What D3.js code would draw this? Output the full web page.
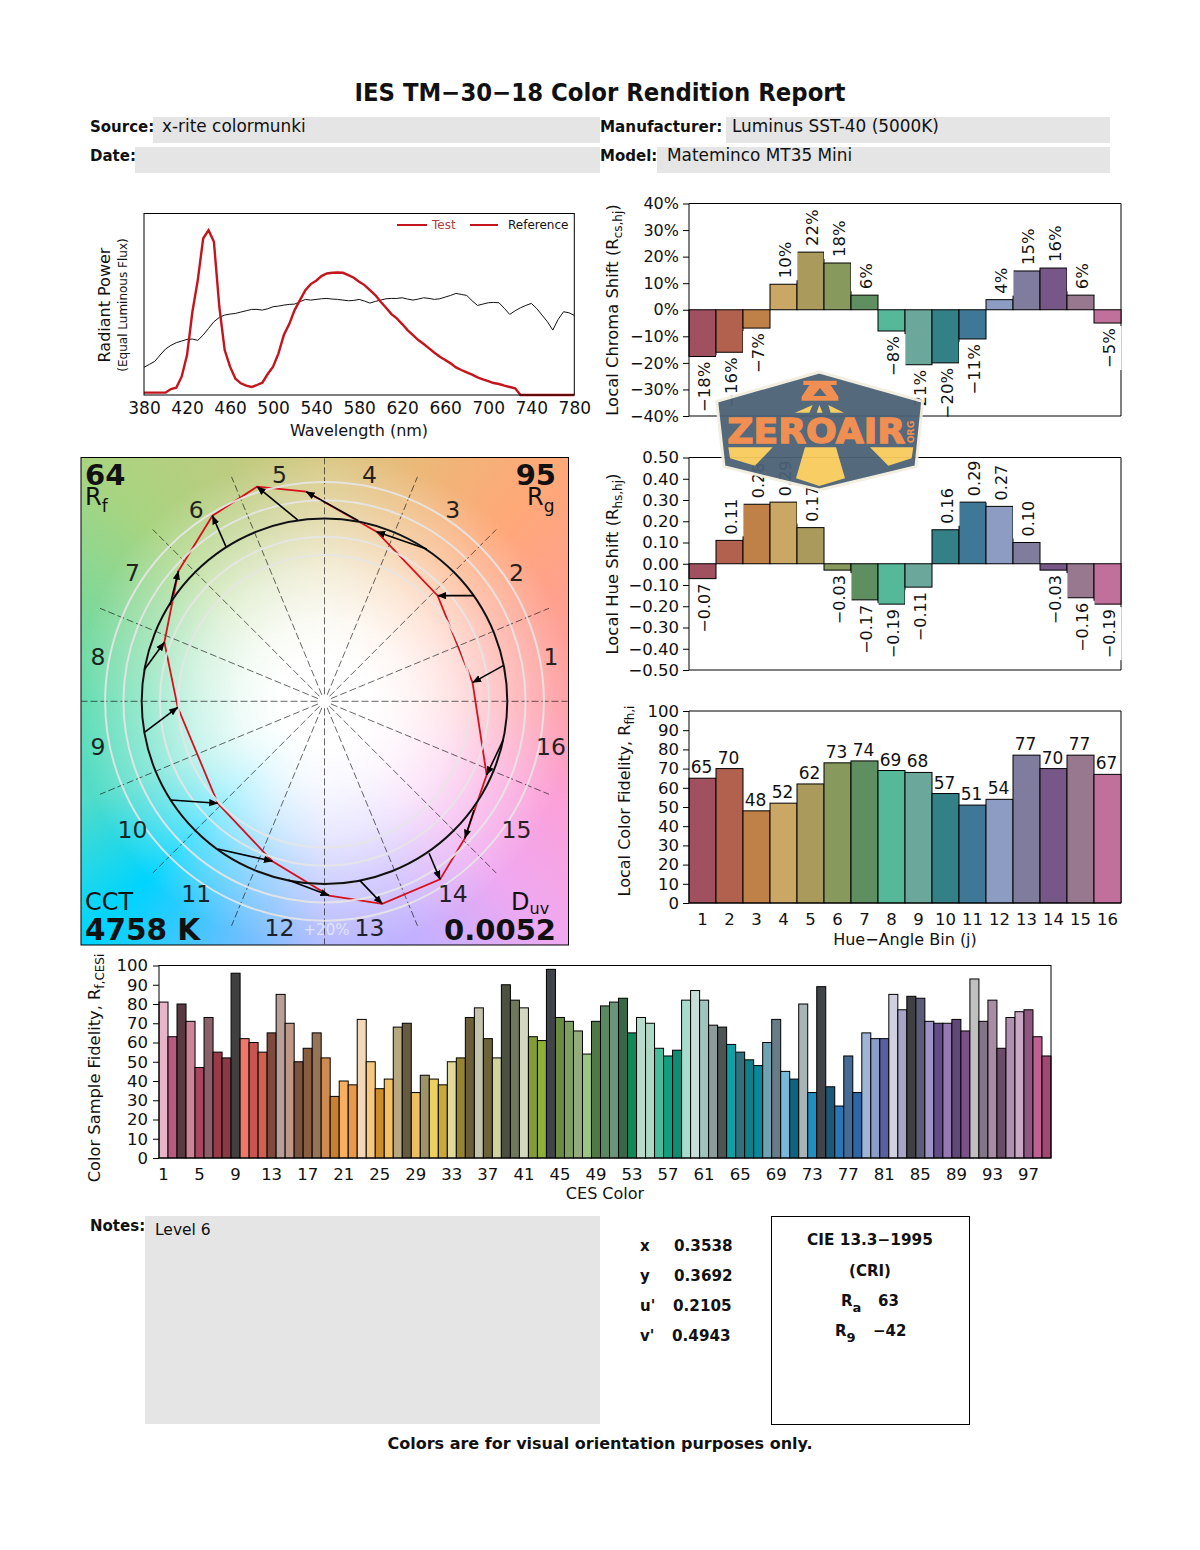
<!DOCTYPE html>
<html><head><meta charset="utf-8">
<script src="https://cdn.jsdelivr.net/npm/d3@7/dist/d3.min.js"></script>
<style>
html,body{margin:0;padding:0;background:#fff;}
#page{position:relative;width:1200px;height:1550px;overflow:hidden;}
#vec{position:absolute;}
svg{position:absolute;left:0;top:0;}
text{font-family:"DejaVu Sans",sans-serif;fill:#111;}
</style></head><body><div id="page"></div>
<script>
// ---------- DATA ----------
const wavelengths = d3.range(380, 785, 5);
const testPower = [7,7,7,7,7,18,22,55,120,250,345,470,495,460,265,135,85,49,35,28,24,30,37,63,85,125,180,213,255,285,315,333,343,357,365,367,368,367,360,352,340,330,315,300,280,262,243,230,213,195,180,165,153,140,127,115,105,95,83,75,68,61,53,47,42,36,33,28,24,20,0,0,0,0,0,0,0,0,0,0,0];
const refPower = [83,92,101,120,138,149,157,162,167,168,164,180,200,220,233,240,243,245,249,253,257,257,255,259,265,267,270,272,273,280,287,285,287,289,290,288,287,285,283,284,287,282,276,281,285,289,290,290,292,288,285,288,292,290,287,289,294,299,305,302,299,283,269,273,277,278,277,260,242,253,262,269,275,260,240,220,195,227,250,247,239];
const binLabels = d3.range(1, 17);
const binColors = ["#a0505f","#b2614f","#c08148","#cba765","#aa9b5c","#87995c","#5f8f60","#55b899","#6ca79c","#338186","#3f7896","#8c9cc2","#807c9e","#775787","#97788f","#c0709a"];
const chromaShift = [-17.6,-16,-6.9,9.6,21.7,17.6,5.5,-8,-20.7,-20,-11,3.8,14.6,15.7,5.5,-5];
const chromaTicks = [-40,-30,-20,-10,0,10,20,30,40];
const hueShift = [-0.07,0.11,0.28,0.29,0.17,-0.03,-0.17,-0.19,-0.11,0.16,0.29,0.27,0.10,-0.03,-0.16,-0.19];
const hueTicks = [-0.5,-0.4,-0.3,-0.2,-0.1,0,0.1,0.2,0.3,0.4,0.5];
const fidelity = [65,70,48,52,62,73,74,69,68,57,51,54,77,70,77,67];
const fidTicks = d3.range(0, 110, 10);
const cesValues = [81,63,80,71,47,73,55,52,96,62,60,55,65,85,70,50,57,65,52,32,40,38,72,50,36,41,68,70,34,43,41,38,50,52,73,78,62,52,90,82,78,63,61,98,73,71,66,54,71,79,81,83,65,73,70,57,53,56,82,87,82,69,68,59,55,51,48,60,72,45,41,80,34,89,37,27,53,34,65,62,62,85,77,84,83,71,70,70,72,66,93,71,82,57,73,76,77,63,53];
const cesColors = ["#e8b4c8","#b85a80","#5a3a42","#cc8498","#a84560","#8c6068","#9a3a48","#8a3a45","#404040","#f07868","#c85650","#d06050","#7e4a3c","#b8a098","#c09888","#7c5240","#8a5c40","#967458","#d08a50","#c88030","#f8b060","#e89848","#f2d8b8","#f8c880","#cc8c28","#f4c060","#b8a880","#665a40","#ecc060","#9c9468","#ecd060","#c8a838","#e2da98","#968430","#6a5e38","#c4c4ac","#6e6238","#d0d49c","#4c5040","#70785c","#d4d8c0","#849c34","#8cb038","#404448","#6a8c40","#80a060","#94ac7c","#98c880","#507844","#5c8860","#6c9478","#386848","#108858","#b8dccc","#acd8c4","#48bc9c","#10a080","#108c74","#a8dccc","#c8dcd8","#a0c4bc","#8c9c9c","#4c5454","#10a0a8","#34707c","#108088","#08889c","#6ca4b4","#687c88","#78b8d8","#106480","#a8b4b8","#2090c4","#404448","#1c5878","#2878b8","#446c94","#2c68a8","#a0b4d8","#8c9cc8","#5860a0","#d0d0e0","#a8a4c8","#404044","#5c5c78","#9c94c4","#604c88","#9878b4","#604878","#7c5088","#c0c0c0","#847488","#a88ca4","#684c68","#b090b0","#c8a8c4","#905880","#c06090","#a04870"];
const cesTickValues = d3.range(1, 100, 4);
const refA = [0.978,0.818,0.559,0.185,-0.147,-0.539,-0.845,-0.987,-0.987,-0.841,-0.584,-0.198,0.194,0.572,0.818,0.978];
const refB = [0.195,0.578,0.833,0.988,0.992,0.846,0.527,0.171,-0.171,-0.540,-0.808,-0.977,-0.981,-0.831,-0.594,-0.211];
const testA = [0.810,0.619,0.285,-0.101,-0.369,-0.613,-0.799,-0.876,-0.803,-0.584,-0.285,0.025,0.316,0.632,0.768,0.887];
const testB = [0.102,0.578,0.928,1.147,1.174,1.015,0.713,0.323,-0.033,-0.558,-0.875,-1.063,-1.108,-0.974,-0.749,-0.403];
const ringLevels = [0.8,0.9,1.0,1.1,1.2];
const hueStops = ["#d8c884","#ecb878","#ffa878","#ffa090","#ff9fa6","#fca0d8","#f0a8f0","#c4b0ff","#b4b8ff","#60c0ff","#00d4ff","#50dcc8","#5fdcb0","#80d898","#a8d480","#bccc80"];
const wavelengthTicks = d3.range(380, 800, 40);

// ---------- PAGE ----------
const page = d3.select("#page");
const vecBox = {l:81, t:457.5, w:487.5, h:487.5};
const vecC = {x:324.5, y:701.3, r:182.8};

page.append("div").attr("id","vec")
  .style("left",vecBox.l+"px").style("top",vecBox.t+"px")
  .style("width",vecBox.w+"px").style("height",vecBox.h+"px")
  .style("background",
    `radial-gradient(circle at ${vecC.x-vecBox.l}px ${vecC.y-vecBox.t}px, rgba(255,255,255,1) 0, rgba(255,255,255,1) 45px, rgba(255,255,255,.9) 85px, rgba(255,255,255,.7) 130px, rgba(255,255,255,.36) 182px, rgba(255,255,255,0) 250px),`+
    `conic-gradient(from 0deg at ${vecC.x-vecBox.l}px ${vecC.y-vecBox.t}px, ${hueStops.map((c,i)=>`${c} ${i*22.5}deg`).join(",")}, ${hueStops[0]} 360deg)`);

const svg = page.append("svg").attr("width",1200).attr("height",1550);

function T(x,y,str,o={}){
  const t = svg.append("text").attr("x",x).attr("y",y)
    .attr("font-size",o.size||15).attr("text-anchor",o.anchor||"start")
    .attr("font-weight",o.bold?"bold":null).text(str);
  if(o.fill) t.style("fill",o.fill);
  if(o.opacity) t.style("opacity",o.opacity);
  if(o.rot!=null) t.attr("transform",`rotate(${o.rot} ${x} ${y})`);
  return t;
}
function sub(t,str,size,dy){ t.append("tspan").attr("font-size",size).attr("dy",dy).text(str); return t; }
function cont(t,str,dy){ t.append("tspan").attr("dy",dy).text(str); return t; }

// ---------- HEADER ----------
T(600,101,"IES TM\u221230\u221218 Color Rendition Report",{size:25,bold:true,anchor:"middle"})
  .attr("textLength",491).attr("lengthAdjust","spacingAndGlyphs");
const grayBoxes = [[153,117,447,26],[726,117,384,26],[135,147,465,26],[657,147,453,26],[145,1216,455,208]];
svg.selectAll("rect.gb").data(grayBoxes).join("rect").attr("class","gb")
  .attr("x",d=>d[0]).attr("y",d=>d[1]).attr("width",d=>d[2]).attr("height",d=>d[3]).attr("fill","#e5e5e5");
T(90,132,"Source:",{size:15,bold:true});
T(162,132,"x-rite colormunki",{size:16.9});
T(600,132,"Manufacturer:",{size:15.2,bold:true});
T(732,132,"Luminus SST-40 (5000K)",{size:16.9});
T(90,161,"Date:",{size:15,bold:true});
T(600,161,"Model:",{size:15,bold:true});
T(667,161,"Mateminco MT35 Mini",{size:16.9});

// ---------- SPECTRUM ----------
const sp = {l:144,r:574.3,t:213.5,b:395};
const xW = d3.scaleLinear().domain([380,780]).range([sp.l,sp.r]);
const yP = d3.scaleLinear().domain([0,545]).range([sp.b,sp.t]);
const line = d3.line().x((d,i)=>xW(wavelengths[i])).y(d=>yP(d)).curve(d3.curveLinear);
svg.append("path").datum(refPower).attr("d",line).attr("fill","none").attr("stroke","#111").attr("stroke-width",1);
svg.append("path").datum(testPower).attr("d",line).attr("fill","none").attr("stroke","#c4141c").attr("stroke-width",2.4);
const spAxis = svg.append("g").attr("transform",`translate(0,${sp.b})`)
  .call(d3.axisBottom(xW).tickValues(wavelengthTicks).tickSize(0).tickPadding(7));
spAxis.select(".domain").remove();
spAxis.selectAll("text").attr("font-size",17).attr("font-family",null);
svg.append("rect").attr("x",sp.l).attr("y",sp.t).attr("width",sp.r-sp.l).attr("height",sp.b-sp.t)
  .attr("fill","none").attr("stroke","#000").attr("stroke-width",1);
T(359,436,"Wavelength (nm)",{size:16,anchor:"middle"});
T(110,305,"Radiant Power",{size:16,anchor:"middle",rot:-90});
T(127,305,"(Equal Luminous Flux)",{size:12,anchor:"middle",rot:-90});
svg.append("line").attr("x1",397).attr("x2",427).attr("y1",225).attr("y2",225).attr("stroke","#c4141c").attr("stroke-width",2);
T(432,229,"Test",{size:12,fill:"#b04040"});
svg.append("line").attr("x1",470).attr("x2",498).attr("y1",225).attr("y2",225).attr("stroke","#c4141c").attr("stroke-width",2);
T(508,229,"Reference",{size:12});

// ---------- VECTOR GRAPHIC ----------
const pA = d3.scaleLinear().domain([-1,1]).range([vecC.x-vecC.r,vecC.x+vecC.r]);
const pB = d3.scaleLinear().domain([-1,1]).range([vecC.y+vecC.r,vecC.y-vecC.r]);
const defs = svg.append("defs");
defs.append("marker").attr("id","ah").attr("markerUnits","userSpaceOnUse")
  .attr("viewBox","0 0 10 10").attr("refX",9.5).attr("refY",5).attr("markerWidth",9).attr("markerHeight",9).attr("orient","auto")
  .append("path").attr("d","M0,1 L10,5 L0,9 Z").attr("fill","#000");
const vec = svg.append("g");
// spokes
vec.selectAll("line.sp").data(d3.range(16)).join("line").attr("class","sp")
  .attr("x1",i=>vecC.x+7*Math.cos(i*Math.PI/8)).attr("y1",i=>vecC.y-7*Math.sin(i*Math.PI/8))
  .attr("x2",i=>vecC.x+243*Math.cos(i*Math.PI/8))
  .attr("y2",i=>vecC.y-243*Math.sin(i*Math.PI/8))
  .attr("stroke","#111").attr("stroke-width",.8).attr("stroke-dasharray","7,3").attr("opacity",.8);
// test polygon
const testPts = testA.map((a,i)=>[pA(a),pB(testB[i])]);
vec.append("path").attr("d",d3.line().curve(d3.curveLinearClosed)(testPts))
  .attr("fill","none").attr("stroke","#d8101c").attr("stroke-width",1.8);
// rings
vec.selectAll("circle.ring").data(ringLevels).join("circle").attr("class","ring")
  .attr("cx",vecC.x).attr("cy",vecC.y).attr("r",d=>d*vecC.r)
  .attr("fill","none").attr("stroke","#e6e6e6").attr("stroke-width",2).attr("opacity",.9);
// reference circle
vec.append("circle").attr("cx",vecC.x).attr("cy",vecC.y).attr("r",vecC.r)
  .attr("fill","none").attr("stroke","#111").attr("stroke-width",2);
// arrows
vec.selectAll("line.ar").data(refA.map((a,i)=>i)).join("line").attr("class","ar")
  .attr("x1",i=>pA(refA[i])).attr("y1",i=>pB(refB[i]))
  .attr("x2",i=>pA(testA[i])).attr("y2",i=>pB(testB[i]))
  .attr("stroke","#000").attr("stroke-width",1.6).attr("marker-end","url(#ah)");
// frame
svg.append("rect").attr("x",vecBox.l).attr("y",vecBox.t).attr("width",vecBox.w).attr("height",vecBox.h)
  .attr("fill","none").attr("stroke","#000").attr("stroke-width",1);
// bin labels
binLabels.forEach((b,i)=>{
  const a=(i+0.5)*Math.PI/8;
  T(vecC.x+231*Math.cos(a),vecC.y-231*Math.sin(a)+8.5,b,{size:23.5,anchor:"middle",opacity:.9});
});
T(85,485,"64",{size:29,bold:true});
sub(T(85,505,"R",{size:24}),"f",17,7);
T(556,485,"95",{size:29,bold:true,anchor:"end"});
sub(T(527,505,"R",{size:24}),"g",17,7);
T(85,910,"CCT",{size:24});
T(85,940,"4758 K",{size:29.5,bold:true});
sub(T(511,910,"D",{size:24}),"uv",16,4);
T(556,940,"0.0052",{size:29,bold:true,anchor:"end"});
T(326.5,935,"+20%",{size:15,anchor:"middle",fill:"#fff",opacity:.55});

// ---------- BIN CHARTS ----------
const cL=689, cR=1121;
const xB = d3.scaleBand().domain(binLabels).range([cL,cR]).padding(0);
function barChart(o){
  const y = d3.scaleLinear().domain(o.domain).range([o.b,o.t]);
  const g = svg.append("g");
  // right spine sits below label backgrounds
  g.append("line").attr("x1",cR).attr("x2",cR).attr("y1",o.t).attr("y2",o.b).attr("stroke","#000");
  g.selectAll("rect.bar").data(o.values).join("rect").attr("class","bar")
    .attr("x",(d,i)=>xB(binLabels[i])).attr("width",xB.bandwidth())
    .attr("y",d=>y(Math.max(d,0))).attr("height",d=>Math.abs(y(d)-y(0)))
    .attr("fill",(d,i)=>binColors[i]).attr("stroke","#000").attr("stroke-width",1);
  const ax = g.append("g").attr("transform",`translate(${cL},0)`)
    .call(d3.axisLeft(y).tickValues(o.ticks).tickFormat(o.tickFmt).tickSize(6).tickPadding(4));
  ax.select(".domain").remove();
  ax.selectAll("text").attr("font-size",o.tickSize||15).attr("font-family",null);
  return {g,y};
}
function rotLabels(c,values,fmt,size){
  values.forEach((v,i)=>{
    const cx=xB(binLabels[i])+xB.bandwidth()/2+2;
    const pos=v>=0, yy=c.y(v)+(pos?-6:5);
    const t=c.g.append("text").attr("font-size",size).attr("text-anchor",pos?"start":"end")
      .attr("transform",`translate(${cx},${yy}) rotate(-90)`).attr("dy",".36em").text(fmt(v));
    const L=t.node().getComputedTextLength();
    c.g.insert("rect",()=>t.node()).attr("x",xB(binLabels[i])).attr("width",xB.bandwidth()+.6)
      .attr("y",pos?yy-L-2:yy-2).attr("height",L+4).attr("fill","#fff");
  });
}
function frameLines(o){
  svg.append("path").attr("d",`M${cR},${o.b}H${cL}V${o.t}H${cR}`).attr("fill","none").attr("stroke","#000").attr("stroke-width",1);
}
const minus = s => String(s).replace("-","\u2212");
// chroma
const chromaO={domain:[-40,40],t:203.5,b:416,values:chromaShift,ticks:chromaTicks,tickFmt:d=>minus(d)+"%",tickSize:16};
const cc=barChart(chromaO);
rotLabels(cc,chromaShift,v=>minus(Math.round(v))+"%",16.5);
frameLines(chromaO);
cont(sub(T(618,310,"Local Chroma Shift (R",{size:16.4,anchor:"middle",rot:-90}),"cs,hj",12,4),")",-4);
// hue
const hueO={domain:[-0.5,0.5],t:457.5,b:670,values:hueShift,ticks:hueTicks,tickFmt:d=>minus(d.toFixed(2)),tickSize:16.5};
const ch=barChart(hueO);
rotLabels(ch,hueShift,v=>minus(v.toFixed(2)),16);
frameLines(hueO);
cont(sub(T(618,564,"Local Hue Shift (R",{size:16.4,anchor:"middle",rot:-90}),"hs,hj",12,4),")",-4);
// fidelity
const fidO={domain:[0,100],t:711,b:903,values:fidelity,ticks:fidTicks,tickFmt:d=>d,tickSize:16.5};
const cf=barChart(fidO);
fidelity.forEach((v,i)=>{
  cf.g.append("text").attr("x",xB(binLabels[i])+xB.bandwidth()/2-1).attr("y",cf.y(v)-5)
    .attr("font-size",17).attr("text-anchor","middle").text(v);
});
frameLines(fidO);
const fx = svg.append("g").attr("transform",`translate(0,903)`).call(d3.axisBottom(xB).tickSize(0).tickPadding(10));
fx.select(".domain").remove();
fx.selectAll("text").attr("font-size",16.5).attr("font-family",null);
T(905,945,"Hue\u2212Angle Bin (j)",{size:16,anchor:"middle"});
sub(T(630,801,"Local Color Fidelity, R",{size:16,anchor:"middle",rot:-90}),"fh,i",12,4);

// ---------- CES ----------
const ces={l:159,r:1051,t:965.5,b:1158};
const xC = d3.scaleBand().domain(d3.range(1,100)).range([ces.l,ces.r]).padding(0);
const yC = d3.scaleLinear().domain([0,100]).range([ces.b,ces.t]);
svg.append("g").selectAll("rect").data(cesValues).join("rect")
  .attr("x",(d,i)=>xC(i+1)).attr("width",xC.bandwidth())
  .attr("y",d=>yC(d)).attr("height",d=>yC(0)-yC(d))
  .attr("fill",(d,i)=>cesColors[i]).attr("stroke","#000").attr("stroke-width",1);
svg.append("rect").attr("x",ces.l).attr("y",ces.t).attr("width",ces.r-ces.l).attr("height",ces.b-ces.t)
  .attr("fill","none").attr("stroke","#000").attr("stroke-width",1);
const cy = svg.append("g").attr("transform",`translate(${ces.l},0)`)
  .call(d3.axisLeft(yC).tickValues(fidTicks).tickSize(6).tickPadding(5));
cy.select(".domain").remove(); cy.selectAll("text").attr("font-size",16.5).attr("font-family",null);
const cx = svg.append("g").attr("transform",`translate(0,${ces.b})`)
  .call(d3.axisBottom(xC).tickValues(cesTickValues).tickSize(0).tickPadding(10));
cx.select(".domain").remove(); cx.selectAll("text").attr("font-size",16.5).attr("font-family",null);
T(605,1199,"CES Color",{size:16,anchor:"middle"});
sub(T(100,1068,"Color Sample Fidelity, R",{size:16.3,anchor:"middle",rot:-90}),"f,CESi",12,4);

// ---------- FOOTER ----------
T(90,1231,"Notes:",{size:15,bold:true});
T(155,1235,"Level 6",{size:15.5});
const metricNames=["x","y","u'","v'"], metricVals=["0.3538","0.3692","0.2105","0.4943"], metricX=[674,674,673,672];
metricNames.forEach((n,i)=>{
  T(640,1251+30*i,n,{size:15,bold:true});
  T(metricX[i],1251+30*i,metricVals[i],{size:15.2,bold:true});
});
svg.append("rect").attr("x",771.5).attr("y",1216.5).attr("width",198).attr("height",208).attr("fill","none").attr("stroke","#000");
T(870,1245,"CIE 13.3\u22121995",{size:15.3,bold:true,anchor:"middle"});
T(870,1276,"(CRI)",{size:15,bold:true,anchor:"middle"});
sub(T(841,1306,"R",{size:15,bold:true}),"a",13,6);
T(878,1306,"63",{size:15,bold:true});
sub(T(835,1336,"R",{size:15,bold:true}),"9",13,6);
T(873,1336,"\u221242",{size:15,bold:true});
T(600,1449,"Colors are for visual orientation purposes only.",{size:16,bold:true,anchor:"middle"});

// ---------- WATERMARK LOGO ----------
const lg = svg.append("g").attr("transform","translate(700,360) scale(0.3333)").attr("opacity",.95);
const P=(pts,fill,extra)=>{const p=lg.append("polygon").attr("points",pts).attr("fill",fill); if(extra)p.attr("stroke",extra).attr("stroke-width",9).attr("stroke-linejoin","round"); return p;};
P("358,36 668,124 648,320 358,390 72,320 50,124","#4b6175","#f2eedf");
P("310,62 410,62 410,75 392,75 415,110 415,122 305,122 305,110 328,75 310,75","#f08a48");
P("360,84 380,108 340,108","#4b6175");
P("285,158 338,135 328,158","#f7cb5c");P("350,158 358,135 368,158","#f7cb5c");P("385,135 432,158 392,158","#f7cb5c");
P("85,262 218,262 165,317 90,295","#f7cb5c");
P("315,262 408,262 435,355 358,378 288,355","#f7cb5c");
P("510,262 640,262 635,295 565,317","#f7cb5c");
lg.append("text").attr("x",82).attr("y",250).attr("font-size",102).attr("font-weight","bold")
  .attr("textLength",533).attr("lengthAdjust","spacingAndGlyphs").style("fill","#f08a48")
  .attr("stroke","#f08a48").attr("stroke-width",4).text("ZEROAIR");
lg.append("text").attr("transform","translate(642,250) rotate(-90)").attr("font-size",26).attr("font-weight","bold").style("fill","#f08a48")
  .attr("textLength",68).attr("lengthAdjust","spacingAndGlyphs").text("ORG");
</script></body></html>
